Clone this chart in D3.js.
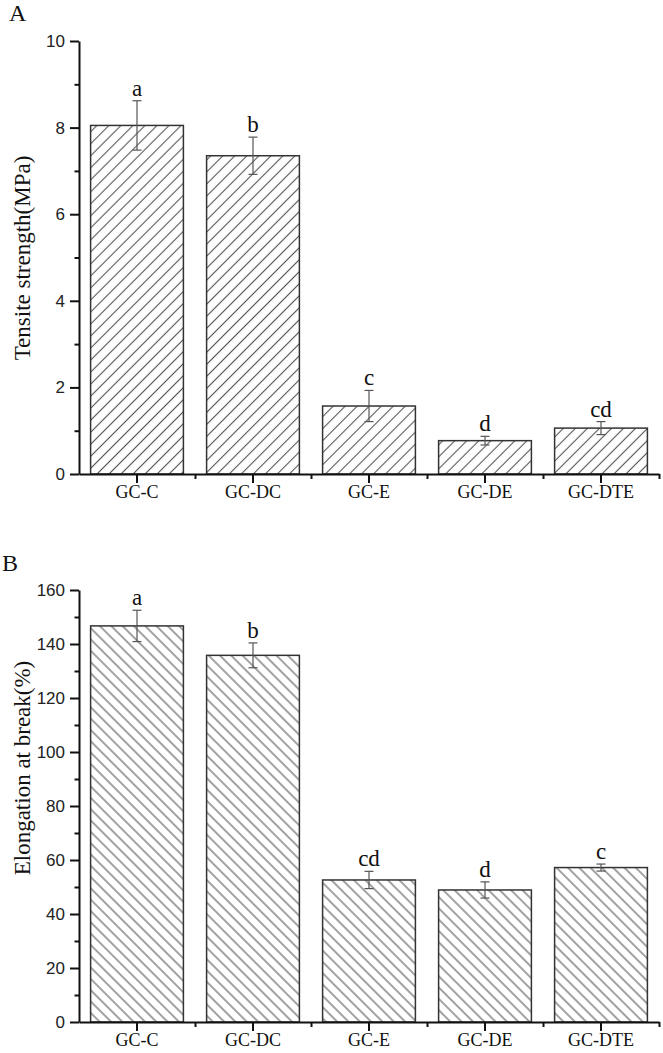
<!DOCTYPE html>
<html>
<head>
<meta charset="utf-8">
<script src="https://cdn.jsdelivr.net/npm/d3@7"></script>
<style>
  body { margin: 0; background: #fff; }
  svg { display: block; }
</style>
</head>
<body>
<svg id="chart" width="663" height="1053"></svg>
<script>
var categories = ['GC-C', 'GC-DC', 'GC-E', 'GC-DE', 'GC-DTE'];

var tensileMean = [8.05, 7.35, 1.57, 0.77, 1.06];
var tensileErr = [0.57, 0.43, 0.36, 0.10, 0.15];
var tensileLetters = ['a', 'b', 'c', 'd', 'cd'];
var tensileTicks = [0, 2, 4, 6, 8, 10];
var tensileMinor = [1, 3, 5, 7, 9];

var elongMean = [146.7, 135.8, 52.6, 48.9, 57.2];
var elongErr = [5.8, 4.6, 3.2, 3.0, 1.3];
var elongLetters = ['a', 'b', 'cd', 'd', 'c'];
var elongTicks = [0, 20, 40, 60, 80, 100, 120, 140, 160];
var elongMinor = [10, 30, 50, 70, 90, 110, 130, 150];

var svg = d3.select('#chart');
var defs = svg.append('defs');

function hatch(id, angle, gap) {
  var p = defs.append('pattern')
      .attr('id', id)
      .attr('patternUnits', 'userSpaceOnUse')
      .attr('width', gap)
      .attr('height', gap)
      .attr('patternTransform', 'rotate(' + angle + ')');
  p.append('rect').attr('width', gap).attr('height', gap).attr('fill', '#fff');
  p.append('line')
      .attr('x1', gap / 2).attr('x2', gap / 2)
      .attr('y1', 0).attr('y2', gap)
      .attr('stroke', '#555')
      .attr('stroke-width', 1.1);
}
hatch('hatchA', 45, 8.5);
hatch('hatchB', -45, 8);

function drawPanel(cfg) {
  var g = svg.append('g');

  var x = d3.scaleBand()
      .domain(categories)
      .range([79, 659])
      .paddingInner(0.2)
      .paddingOuter(0.1);
  var xEdge = d3.scaleLinear().domain([0, 5]).range([79, 659]);
  var y = d3.scaleLinear().domain([0, cfg.max]).range([cfg.bottom, cfg.top]);

  var rows = categories.map(function(c, i) {
    return { cat: c, mean: cfg.mean[i], err: cfg.err[i], letter: cfg.letters[i] };
  });

  // bars
  g.selectAll('.bar')
    .data(rows)
    .enter()
      .append('rect')
      .classed('bar', true)
      .attr('x', d => x(d.cat))
      .attr('y', d => y(d.mean))
      .attr('width', x.bandwidth())
      .attr('height', d => y(0) - y(d.mean))
      .attr('fill', 'url(#' + cfg.pattern + ')')
      .attr('stroke', '#333')
      .attr('stroke-width', 1.5);

  // error bars
  var eb = g.selectAll('.err')
    .data(rows)
    .enter()
      .append('g')
      .classed('err', true)
      .attr('stroke', '#555')
      .attr('stroke-width', 1.2);
  var cx = d => x(d.cat) + x.bandwidth() / 2;
  eb.append('line')
      .attr('x1', cx).attr('x2', cx)
      .attr('y1', d => y(d.mean + d.err))
      .attr('y2', d => y(d.mean - d.err));
  eb.append('line')
      .attr('x1', d => cx(d) - 4.5).attr('x2', d => cx(d) + 4.5)
      .attr('y1', d => y(d.mean + d.err)).attr('y2', d => y(d.mean + d.err));
  eb.append('line')
      .attr('x1', d => cx(d) - 4.5).attr('x2', d => cx(d) + 4.5)
      .attr('y1', d => y(d.mean - d.err)).attr('y2', d => y(d.mean - d.err));

  // significance letters
  g.selectAll('.letter')
    .data(rows)
    .enter()
      .append('text')
      .classed('letter', true)
      .attr('x', cx)
      .attr('y', d => y(d.mean + d.err) - 5)
      .attr('text-anchor', 'middle')
      .attr('font-family', '"Liberation Serif", "Times New Roman", serif')
      .attr('font-size', 23)
      .attr('fill', '#111')
      .text(d => d.letter);

  // y axis
  var yMinor = g.append('g')
      .attr('transform', 'translate(79,0)')
      .call(d3.axisLeft(y).tickValues(cfg.minor).tickSize(4.5).tickFormat(''));
  yMinor.select('.domain').remove();

  var yAxis = g.append('g')
      .attr('transform', 'translate(79,0)')
      .call(d3.axisLeft(y).tickValues(cfg.ticks).tickSize(9).tickSizeOuter(0).tickPadding(5));
  yAxis.selectAll('text')
      .attr('font-family', '"Liberation Sans", Arial, sans-serif')
      .attr('font-size', 17)
      .attr('fill', '#222');

  // x axis
  var xMinor = g.append('g')
      .attr('transform', 'translate(0,' + cfg.bottom + ')')
      .call(d3.axisBottom(xEdge).tickValues([1, 2, 3, 4, 5]).tickSize(5).tickFormat(''));
  xMinor.select('.domain').remove();

  var xAxis = g.append('g')
      .attr('transform', 'translate(0,' + cfg.bottom + ')')
      .call(d3.axisBottom(x).tickSize(9).tickSizeOuter(0).tickPadding(2));
  xAxis.selectAll('text')
      .attr('font-family', '"Liberation Serif", "Times New Roman", serif')
      .attr('font-size', 18)
      .attr('fill', '#111');

  g.selectAll('.domain, .tick line')
      .attr('stroke', '#111')
      .attr('stroke-width', 2);

  // axis title
  g.append('text')
      .attr('transform', 'translate(' + cfg.titleX + ',' + cfg.titleY + ') rotate(-90)')
      .attr('text-anchor', 'middle')
      .attr('font-family', '"Liberation Serif", "Times New Roman", serif')
      .attr('font-size', 23)
      .attr('fill', '#111')
      .text(cfg.title);

  // panel label
  g.append('text')
      .attr('x', cfg.labelX)
      .attr('y', cfg.labelY)
      .attr('font-family', '"Liberation Serif", "Times New Roman", serif')
      .attr('font-size', 24)
      .attr('fill', '#111')
      .text(cfg.label);
}

drawPanel({
  mean: tensileMean, err: tensileErr, letters: tensileLetters,
  ticks: tensileTicks, minor: tensileMinor, max: 10,
  top: 41, bottom: 474, pattern: 'hatchA',
  title: 'Tensite strength(MPa)', titleX: 30, titleY: 258,
  label: 'A', labelX: 9, labelY: 21
});

drawPanel({
  mean: elongMean, err: elongErr, letters: elongLetters,
  ticks: elongTicks, minor: elongMinor, max: 160,
  top: 590, bottom: 1022, pattern: 'hatchB',
  title: 'Elongation at break(%)', titleX: 30, titleY: 768,
  label: 'B', labelX: 2, labelY: 571
});
</script>
</body>
</html>
